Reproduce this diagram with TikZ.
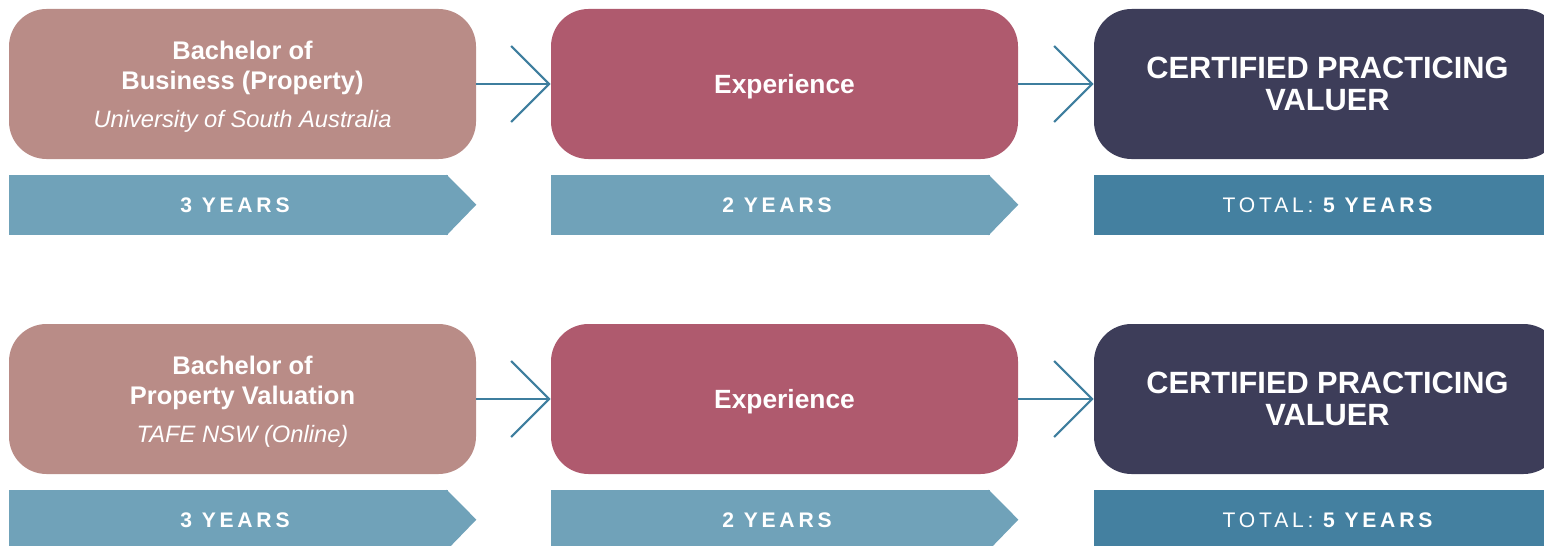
\documentclass[tikz,border=0pt]{standalone}
\usepackage{fontspec}
\setmainfont{Liberation Sans}
\newfontfamily\yearsfont[LetterSpace=18]{Liberation Sans}
\usetikzlibrary{arrows.meta}

\definecolor{degreec}{HTML}{B98C87}
\definecolor{workc}{HTML}{AF5A6E}
\definecolor{valuerc}{HTML}{3D3D59}
\definecolor{bandc}{HTML}{70A2B9}
\definecolor{totalc}{HTML}{4480A0}
\definecolor{arrowc}{HTML}{3E7E9E}

\tikzset{
  stage/.style={rounded corners=0.75cm, minimum width=9.34cm, minimum height=3cm,
    inner sep=0pt, text depth=0pt, text=white, align=center},
  band/.style={minimum height=1.2cm, inner sep=0pt, text=white,
    font=\yearsfont\fontsize{12}{14}\selectfont},
  chevron/.style={band, fill=bandc, minimum width=8.78cm,
    execute at begin node=\hspace*{0.26cm}},
  flow/.style={draw=arrowc, line width=1.2pt,
    -{Straight Barb[length=0.76cm,width=1.52cm]}}
}

\begin{document}
\begin{tikzpicture}
                \useasboundingbox (0,0) rectangle (30.88,10.9);
                % first route
                \node[stage, fill=degreec, font=\bfseries\fontsize{14.5}{17}\selectfont] (deg1) at (4.85,9.22)
                        {Bachelor of\\Business (Property)\\[4.5pt]{\mdseries\itshape\fontsize{13.5}{17}\selectfont University of South Australia}};
                \node[stage, fill=workc, font=\bfseries\fontsize{15}{18}\selectfont] (exp1) at (15.69,9.22) {Experience};
                \node[stage, fill=valuerc, font=\bfseries\fontsize{17.5}{18.5}\selectfont] (cpv1) at (26.55,9.22) {CERTIFIED PRACTICING\\VALUER};
                \draw[flow] (deg1) -- (exp1);
                \draw[flow] (exp1) -- (cpv1);
                \node[chevron] (yrs1) at (4.57,6.8) {\bfseries 3 YEARS};
                \fill[bandc] ([xshift=-1pt]yrs1.north east) -- ++(0.595,-0.6) -- ([xshift=-1pt]yrs1.south east) -- cycle;
                \node[chevron] (yrs2) at (15.41,6.8) {\bfseries 2 YEARS};
                \fill[bandc] ([xshift=-1pt]yrs2.north east) -- ++(0.595,-0.6) -- ([xshift=-1pt]yrs2.south east) -- cycle;
                \node[band, fill=totalc, minimum width=9.34cm] (tot1) at (26.55,6.8) {TOTAL: \bfseries 5 YEARS};
                % second route
                \node[stage, fill=degreec, font=\bfseries\fontsize{14.5}{17}\selectfont] (deg2) at (4.85,2.92)
                        {Bachelor of\\Property Valuation\\[4.5pt]{\mdseries\itshape\fontsize{13.5}{17}\selectfont TAFE NSW (Online)}};
                \node[stage, fill=workc, font=\bfseries\fontsize{15}{18}\selectfont] (exp2) at (15.69,2.92) {Experience};
                \node[stage, fill=valuerc, font=\bfseries\fontsize{17.5}{18.5}\selectfont] (cpv2) at (26.55,2.92) {CERTIFIED PRACTICING\\VALUER};
                \draw[flow] (deg2) -- (exp2);
                \draw[flow] (exp2) -- (cpv2);
                \node[chevron] (yrs3) at (4.57,0.5) {\bfseries 3 YEARS};
                \fill[bandc] ([xshift=-1pt]yrs3.north east) -- ++(0.595,-0.6) -- ([xshift=-1pt]yrs3.south east) -- cycle;
                \node[chevron] (yrs4) at (15.41,0.5) {\bfseries 2 YEARS};
                \fill[bandc] ([xshift=-1pt]yrs4.north east) -- ++(0.595,-0.6) -- ([xshift=-1pt]yrs4.south east) -- cycle;
                \node[band, fill=totalc, minimum width=9.34cm] (tot2) at (26.55,0.5) {TOTAL: \bfseries 5 YEARS};
\end{tikzpicture}
\end{document}
